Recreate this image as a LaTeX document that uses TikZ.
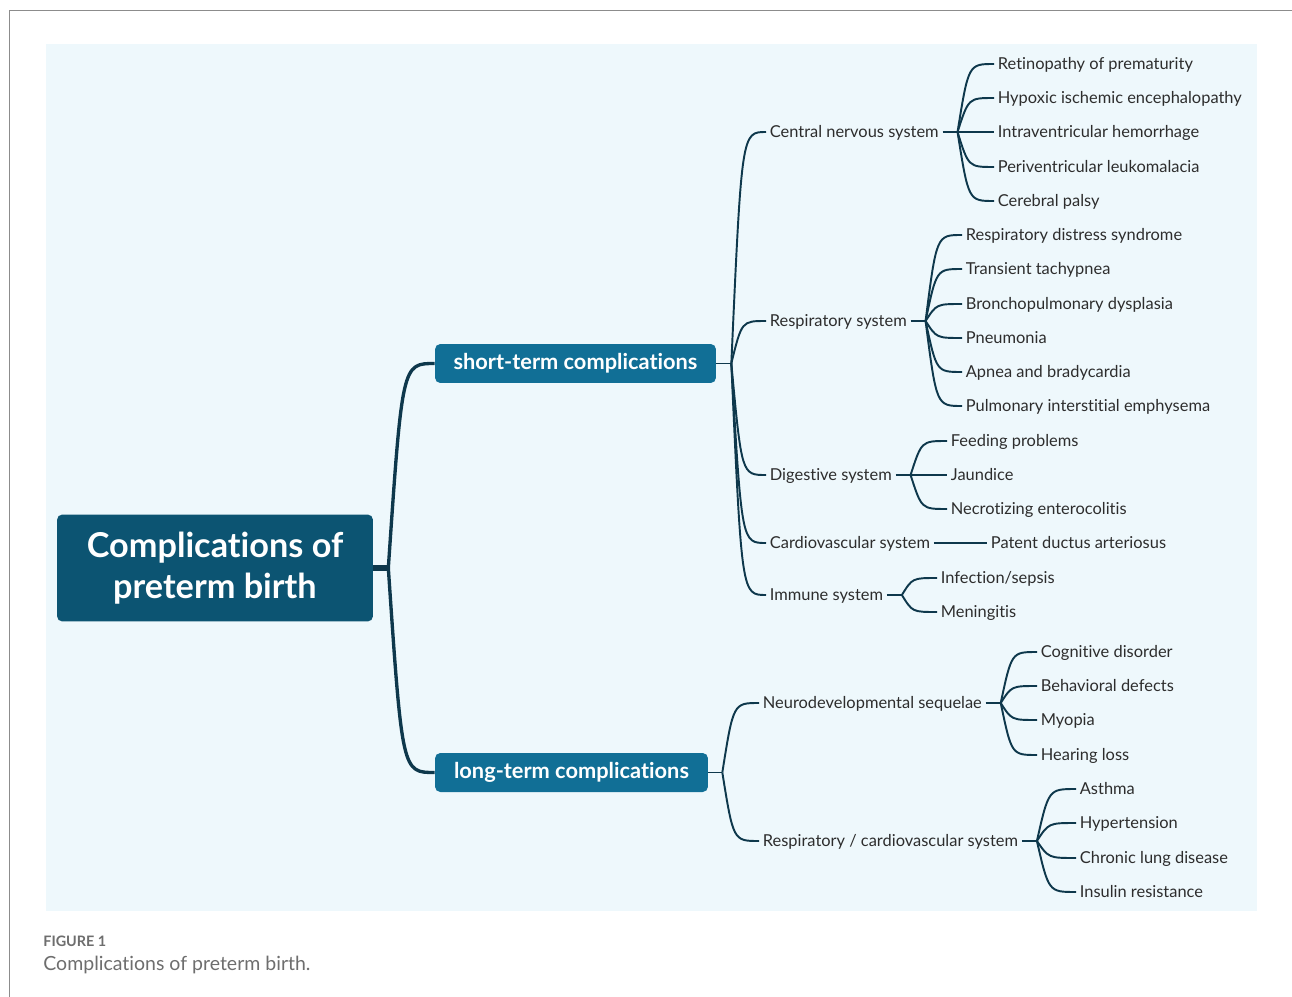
\documentclass[tikz,border=0pt]{standalone}
\usepackage{fontspec}
\setmainfont{Lato}[Ligatures=NoCommon]
\usepackage{tikz}
\usetikzlibrary{calc}
\definecolor{bgblue}{RGB}{238,248,252}
\definecolor{rootfill}{RGB}{12,84,114}
\definecolor{termfill}{RGB}{17,111,150}
\definecolor{linecol}{RGB}{14,56,76}
\definecolor{textcol}{RGB}{45,45,45}
\definecolor{framegray}{RGB}{140,140,140}
\definecolor{capgray}{RGB}{110,110,110}
\tikzstyle{root} = [fill=rootfill,text=white,rounded corners=3pt,minimum width=6.32cm,minimum height=2.14cm,align=center,font=\fontsize{19.5}{23.5}\selectfont\bfseries]
\tikzstyle{term} = [fill=termfill,text=white,rounded corners=3pt,minimum height=.78cm,inner xsep=2pt,font=\fontsize{12.4}{14}\selectfont\bfseries]
\tikzstyle{item} = [anchor=west,inner xsep=2pt,inner ysep=0pt,text=textcol,text height=1.6ex,text depth=.45ex,font=\fontsize{9.35}{11}\selectfont]
\tikzstyle{link} = [draw=linecol,line width=1.1pt]
\tikzstyle{trunk} = [draw=linecol,line width=1.9pt]
\tikzstyle{every edge} = [draw,to path={let \p1=(\tikztostart), \p2=(\tikztotarget.west) in .. controls ({\x1+0.3*(\x2-\x1)},\y2) .. (\tikztotarget.west) \tikztonodes}]

\begin{document}
\begin{tikzpicture}[x=0.02cm,y=-0.02cm]

\fill[white] (0,0) rectangle (1292,997);
\useasboundingbox (0,0) rectangle (1292,997);
\draw[framegray,line width=0.8pt] (9.5,997) -- (9.5,10.5) -- (1292,10.5);
\fill[bgblue] (46,44) rectangle (1257,911);

% main branches
\node[root] (root) at (215,568) {Complications of\\preterm birth};
\node[term,minimum width=5.62cm] (st) at (575.5,363.5) {short-term complications};
\node[term,minimum width=5.46cm] (lt) at (571.5,772.5) {long-term complications};
\coordinate (rootB) at ($(root.east)+(15,0)$);
\coordinate (stB) at ($(st.east)+(15,0)$);
\coordinate (ltB) at ($(lt.east)+(14,0)$);

% short-term systems
\node[item] (cns) at (766,132) {Central nervous system};
\node[item] (resp) at (766,321) {Respiratory system};
\node[item] (dig) at (766,475) {Digestive system};
\node[item] (cvs) at (766,543) {Cardiovascular system};
\node[item] (imm) at (766,595) {Immune system};
\coordinate (cnsB) at ($(cns.east)+(15,0)$);
\coordinate (respB) at ($(resp.east)+(15,0)$);
\coordinate (digB) at ($(dig.east)+(15,0)$);
\coordinate (immB) at ($(imm.east)+(15,0)$);

\node[item] (rop) at (994,64) {Retinopathy of prematurity};
\node[item] (hie) at (994,98) {Hypoxic ischemic encephalopathy};
\node[item] (ivh) at (994,132) {Intraventricular hemorrhage};
\node[item] (pvl) at (994,167) {Periventricular leukomalacia};
\node[item] (cp) at (994,201) {Cerebral palsy};

\node[item] (rds) at (962,235) {Respiratory distress syndrome};
\node[item] (ttn) at (962,269) {Transient tachypnea};
\node[item] (bpd) at (962,304) {Bronchopulmonary dysplasia};
\node[item] (pneu) at (962,338) {Pneumonia};
\node[item] (apnea) at (962,372) {Apnea and bradycardia};
\node[item] (pie) at (962,406) {Pulmonary interstitial emphysema};

\node[item] (feed) at (947,441) {Feeding problems};
\node[item] (jaun) at (947,475) {Jaundice};
\node[item] (nec) at (947,509) {Necrotizing enterocolitis};

\node[item] (pda) at (987,543) {Patent ductus arteriosus};

\node[item] (sepsis) at (937,578) {Infection/sepsis};
\node[item] (mening) at (937,612) {Meningitis};

% long-term systems
\node[item] (nds) at (759,703) {Neurodevelopmental sequelae};
\node[item] (rcs) at (759,841) {Respiratory / cardiovascular system};
\coordinate (ndsB) at ($(nds.east)+(15,0)$);
\coordinate (rcsB) at ($(rcs.east)+(15,0)$);

\node[item] (cog) at (1037,652) {Cognitive disorder};
\node[item] (beh) at (1037,686) {Behavioral defects};
\node[item] (myo) at (1037,720) {Myopia};
\node[item] (hear) at (1037,755) {Hearing loss};

\node[item] (asth) at (1076,789) {Asthma};
\node[item] (hyp) at (1076,823) {Hypertension};
\node[item] (cld) at (1076,858) {Chronic lung disease};
\node[item] (ins) at (1076,892) {Insulin resistance};

% connectors
\draw[trunk,line width=3pt] (root) -- (rootB);
\draw[trunk] (rootB) edge (st) edge (lt);
\draw[link] (st) -- (stB);
\draw[link] (lt) -- (ltB);
\draw[link] (stB) edge (cns) edge (resp) edge (dig) edge (cvs) edge (imm);
\draw[link] (ltB) edge (nds) edge (rcs);
\draw[link] (cns) -- (cnsB);
\draw[link] (cnsB) edge (rop) edge (hie) edge (ivh) edge (pvl) edge (cp);
\draw[link] (resp) -- (respB);
\draw[link] (respB) edge (rds) edge (ttn) edge (bpd) edge (pneu) edge (apnea) edge (pie);
\draw[link] (dig) -- (digB);
\draw[link] (digB) edge (feed) edge (jaun) edge (nec);
\draw[link] (cvs) -- (pda);
\draw[link] (imm) -- (immB);
\draw[link] (immB) edge (sepsis) edge (mening);
\draw[link] (nds) -- (ndsB);
\draw[link] (ndsB) edge (cog) edge (beh) edge (myo) edge (hear);
\draw[link] (rcs) -- (rcsB);
\draw[link] (rcsB) edge (asth) edge (hyp) edge (cld) edge (ins);

% caption
\node[anchor=west,inner sep=0pt,text=capgray,font=\fontsize{8.2}{10}\selectfont\bfseries] (fig) at (43,941) {FIGURE 1};
\node[anchor=west,inner sep=0pt,text=capgray,font=\fontsize{11.1}{13}\selectfont] (cap) at (43,965) {Complications of preterm birth.};

\end{tikzpicture}
\end{document}
